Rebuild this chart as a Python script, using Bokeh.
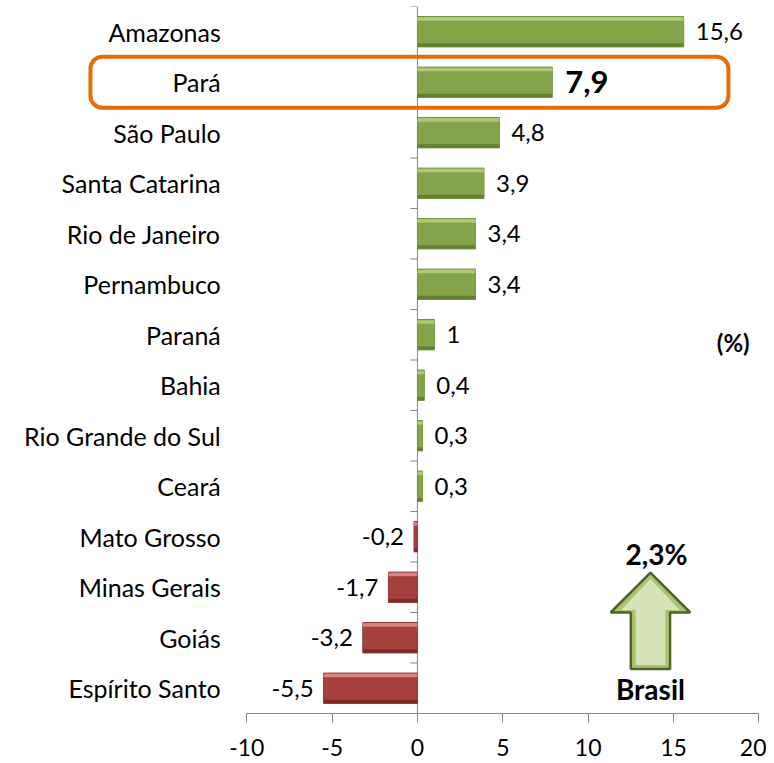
from bokeh.plotting import figure
from bokeh.models import Range1d, FixedTicker, ColumnDataSource
from bokeh.core.properties import value
from bokeh.embed import file_html
from bokeh.resources import INLINE

states = ["Amazonas", "Pará", "São Paulo", "Santa Catarina", "Rio de Janeiro",
          "Pernambuco", "Paraná", "Bahia", "Rio Grande do Sul", "Ceará",
          "Mato Grosso", "Minas Gerais", "Goiás", "Espírito Santo"]
growth = [15.6, 7.9, 4.8, 3.9, 3.4, 3.4, 1.0, 0.4, 0.3, 0.3, -0.2, -1.7, -3.2, -5.5]
x_ticks = [-10, -5, 0, 5, 10, 15, 20]
highlight = "Pará"
brasil_value = 2.3

FONT = "Lato"
n = len(states)
ys = [n - 1 - i for i in range(n)]
labels = [f"{v:g}".replace(".", ",") for v in growth]

p = figure(width=766, height=762, output_backend="svg", toolbar_location=None,
           x_range=Range1d(-23.96, 20.45), y_range=Range1d(-0.5, n - 0.5),
           y_axis_location=None, min_border_left=8, min_border_right=0,
           min_border_top=6, min_border_bottom=49)
p.outline_line_color = None
p.grid.visible = False
p.background_fill_color = "white"

# x axis
ax = p.xaxis[0]
ax.bounds = (-10, 20)
ax.ticker = FixedTicker(ticks=x_ticks)
ax.major_label_overrides = {t: str(t) for t in x_ticks}
ax.axis_line_color = "#868686"
ax.major_tick_line_color = "#868686"
ax.major_tick_out = 9
ax.major_tick_in = 0
ax.minor_tick_line_color = None
ax.major_label_text_font = FONT
ax.major_label_text_font_size = "23px"
ax.major_label_text_color = "#000000"
ax.major_label_standoff = 16

# vertical zero axis with category ticks
p.segment(x0=[0], y0=[-0.5], x1=[0], y1=[n - 0.5], line_color="#868686", line_width=1)
bounds_y = [k - 0.5 for k in range(n + 1)]
p.segment(x0=[-0.42] * len(bounds_y), y0=bounds_y, x1=[0] * len(bounds_y), y1=bounds_y,
          line_color="#868686", line_width=1)

# bars with bevel look
pos = [v >= 0 for v in growth]
base_dark = ["#62802f" if s else "#7c2a28" for s in pos]
main_col = ["#84a449" if s else "#a5403d" for s in pos]
top_col = ["#b3ce7c" if s else "#da8c89" for s in pos]
line_col = ["#6e8c3a" if s else "#8c3331" for s in pos]
src = ColumnDataSource(dict(y=ys, right=growth, dark=base_dark, main=main_col,
                            top=top_col, line=line_col,
                            ym=[y + 0.02 for y in ys], yt=[y + 0.255 for y in ys]))
p.hbar(y="y", height=0.6, left=0, right="right", source=src,
       fill_color="dark", line_color="line", line_width=1)
p.hbar(y="ym", height=0.5, left=0, right="right", source=src,
       fill_color="main", line_color=None)
p.hbar(y="yt", height=0.07, left=0, right="right", source=src,
       fill_color="top", line_color=None, fill_alpha=0.9)

# category labels
p.text(x=[-10] * n, y=ys, text=states, x_offset=-26, text_align="right",
       text_baseline="middle", text_font=value(FONT), text_font_size="25px",
       text_color="#000000")

# value labels
hi_idx = states.index(highlight)
pos_i = [i for i in range(n) if growth[i] >= 0 and i != hi_idx]
neg_i = [i for i in range(n) if growth[i] < 0]
p.text(x=[growth[i] for i in pos_i], y=[ys[i] for i in pos_i], text=[labels[i] for i in pos_i],
       x_offset=12, text_align="left", text_baseline="middle", text_font=value(FONT),
       text_font_size="24px", text_color="#000000")
p.text(x=[growth[i] for i in neg_i], y=[ys[i] for i in neg_i], text=[labels[i] for i in neg_i],
       x_offset=-10, text_align="right", text_baseline="middle", text_font=value(FONT),
       text_font_size="24px", text_color="#000000")
p.text(x=[growth[hi_idx]], y=[ys[hi_idx]], text=[labels[hi_idx]], x_offset=13,
       text_align="left", text_baseline="middle", text_font=value(FONT),
       text_font_size="31px", text_font_style="bold", text_color="#000000")

# highlight box
yh = ys[hi_idx]
p.quad(left=[-19.16], right=[18.22], top=[yh + 0.505], bottom=[yh - 0.505],
       fill_color=None, line_color="#E46C0A", line_width=4, border_radius=12)

# (%) label
p.text(x=[18.5], y=[6.84], text=["(%)"], text_align="center", text_baseline="middle",
       text_font=value(FONT), text_font_size="24px", text_font_style="bold",
       text_color="#000000")

# Brasil arrow
ax_c, hw, sw = 13.65, 2.33, 1.15
y_top, y_head, y_bot = 2.29, 1.50, 0.38
arrow_x = [ax_c, ax_c + hw, ax_c + sw, ax_c + sw, ax_c - sw, ax_c - sw, ax_c - hw]
arrow_y = [y_top, y_head, y_head, y_bot, y_bot, y_head, y_head]
p.patch(arrow_x, arrow_y, fill_color="#a9c46e", line_color="#4f6228", line_width=2.5)
dx, dy = 0.28, 0.08
inner_x = [ax_c, ax_c + hw - 2.2 * dx, ax_c + sw - dx, ax_c + sw - dx, ax_c - sw + dx,
           ax_c - sw + dx, ax_c - hw + 2.2 * dx]
inner_y = [y_top - 1.6 * dy, y_head + dy * 0.6, y_head + dy * 0.6, y_bot + dy,
           y_bot + dy, y_head + dy * 0.6, y_head + dy * 0.6]
p.patch(inner_x, inner_y, fill_color="#d6e4b8", line_color=None)

p.text(x=[14.0], y=[2.66], text=[f"{brasil_value:g}".replace(".", ",") + "%"],
       text_align="center", text_baseline="middle", text_font=value(FONT),
       text_font_size="28px", text_font_style="bold", text_color="#000000")
p.text(x=[ax_c], y=[-0.02], text=["Brasil"], text_align="center", text_baseline="middle",
       text_font=value(FONT), text_font_size="28px", text_font_style="bold",
       text_color="#000000")

open("out.html", "w").write(file_html(p, INLINE))
